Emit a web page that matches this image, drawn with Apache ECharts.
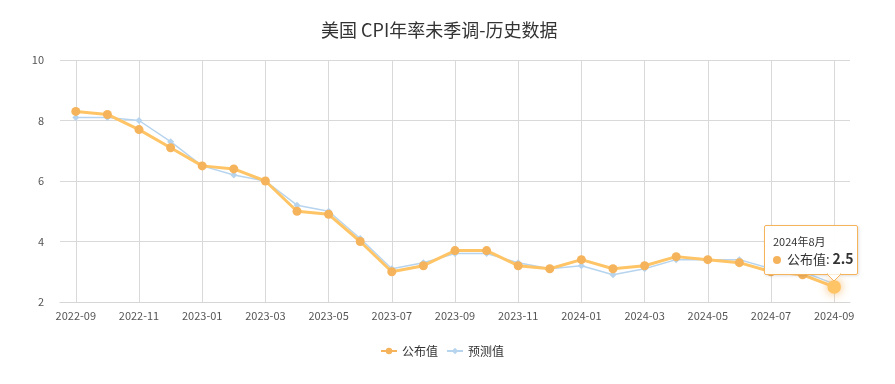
<!DOCTYPE html>
<html>
<head>
<meta charset="utf-8">
<script src="https://cdn.jsdelivr.net/npm/echarts@6/dist/echarts.min.js"></script>
<style>
html,body{margin:0;padding:0;background:#fff;}
#c{width:895px;height:384px;}
</style>
</head>
<body>
<div id="c"></div>
<script>
var categories = ['2022-09','2022-10','2022-11','2022-12','2023-01','2023-02','2023-03','2023-04','2023-05','2023-06','2023-07','2023-08','2023-09','2023-10','2023-11','2023-12','2024-01','2024-02','2024-03','2024-04','2024-05','2024-06','2024-07','2024-08','2024-09'];
var published = [8.3, 8.2, 7.7, 7.1, 6.5, 6.4, 6.0, 5.0, 4.9, 4.0, 3.0, 3.2, 3.7, 3.7, 3.2, 3.1, 3.4, 3.1, 3.2, 3.5, 3.4, 3.3, 3.0, 2.9, 2.5];
var forecast = [8.1, 8.1, 8.0, 7.3, 6.5, 6.2, 6.0, 5.2, 5.0, 4.1, 3.1, 3.3, 3.6, 3.6, 3.3, 3.1, 3.2, 2.9, 3.1, 3.4, 3.4, 3.4, 3.1, 3.0, 2.6];
var yTicks = [2, 4, 6, 8, 10];

var ORANGE = '#f5b35c';
var BLUE = '#b7d4ee';
var FONT = '"Noto Sans CJK SC", "Noto Sans", sans-serif';

var chart = echarts.init(document.getElementById('c'));
chart.setOption({
  animation: false,
  textStyle: {fontFamily: FONT},
  title: {
    text: '美国 CPI年率未季调-历史数据',
    left: 316,
    top: 16,
    textStyle: {fontSize: 18, fontWeight: 'normal', color: '#333', fontFamily: FONT}
  },
  legend: {
    bottom: 22,
    left: 375,
    itemWidth: 16,
    itemHeight: 8,
    itemGap: 8,
    textStyle: {fontSize: 12, color: '#333', fontFamily: FONT},
    data: ['公布值', '预测值']
  },
  tooltip: {
    trigger: 'item',
    alwaysShowContent: true,
    backgroundColor: 'transparent',
    borderWidth: 0,
    padding: 0,
    extraCssText: 'box-shadow:none;overflow:visible;',
    position: function (point) {
      return [point[0] - 70, point[1] - 62];
    },
    textStyle: {color: '#333', fontFamily: FONT},
    formatter: function (p) {
      var parts = p.name.split('-');
      var y = +parts[0], m = +parts[1] - 1;
      if (m === 0) { y -= 1; m = 12; }
      return '<div style="position:relative;width:96px;height:60px;">' +
        '<div style="position:absolute;left:0;top:0;width:94px;height:50px;box-sizing:border-box;padding:8px 0 0 8px;background:rgba(255,255,255,0.97);border:1px solid ' + ORANGE + ';border-radius:2px;box-shadow:1px 1px 3px rgba(0,0,0,0.12);">' +
        '<div style="font-size:11px;line-height:14px;color:#333">' + y + '年' + m + '月</div>' +
        '<div style="font-size:13px;line-height:20px;color:#333;white-space:nowrap"><span style="display:inline-block;width:8px;height:8px;border-radius:50%;background:' + ORANGE + ';margin-right:6px;vertical-align:middle"></span>' +
        p.seriesName + ': <b style="font-size:14px">' + p.value + '</b></div>' +
        '</div>' +
        '<svg width="14" height="9" style="position:absolute;left:63px;top:49px;overflow:visible"><polygon points="0,0 7,7 14,0" fill="#fff" stroke="' + ORANGE + '" stroke-width="1"/><rect x="1" y="-1" width="12" height="1.5" fill="#fff"/></svg>' +
        '</div>';
    }
  },
  grid: {left: 60, right: 45, top: 60, bottom: 82},
  xAxis: {
    type: 'category',
    data: categories,
    boundaryGap: true,
    axisLine: {show: true, lineStyle: {color: '#d6d6d6'}},
    axisTick: {show: false, alignWithLabel: true, interval: 1},
    axisLabel: {interval: 1, color: '#555', fontSize: 11, margin: 8, fontFamily: FONT},
    splitLine: {show: true, interval: 1, alignWithLabel: true, lineStyle: {color: '#d9d9d9'}}
  },
  yAxis: {
    type: 'value',
    min: yTicks[0],
    max: yTicks[yTicks.length - 1],
    interval: 2,
    axisLine: {show: false},
    axisTick: {show: false},
    axisLabel: {color: '#555', fontSize: 11, margin: 16, fontFamily: FONT},
    splitLine: {lineStyle: {color: '#d9d9d9'}}
  },
  series: [
    {
      name: '预测值',
      type: 'line',
      data: forecast,
      z: 2,
      symbol: 'diamond',
      symbolSize: 7,
      itemStyle: {color: BLUE},
      lineStyle: {color: BLUE, width: 1.5}
    },
    {
      name: '公布值',
      type: 'line',
      data: published,
      z: 3,
      symbol: 'circle',
      symbolSize: 9,
      itemStyle: {color: ORANGE},
      lineStyle: {color: ORANGE, width: 3},
      emphasis: {scale: 1.5, itemStyle: {shadowBlur: 10, shadowColor: 'rgba(245,179,92,0.9)'}}
    }
  ]
});
chart.dispatchAction({type: 'showTip', seriesIndex: 1, dataIndex: published.length - 1});
chart.dispatchAction({type: 'highlight', seriesIndex: 1, dataIndex: published.length - 1});
</script>
</body>
</html>
